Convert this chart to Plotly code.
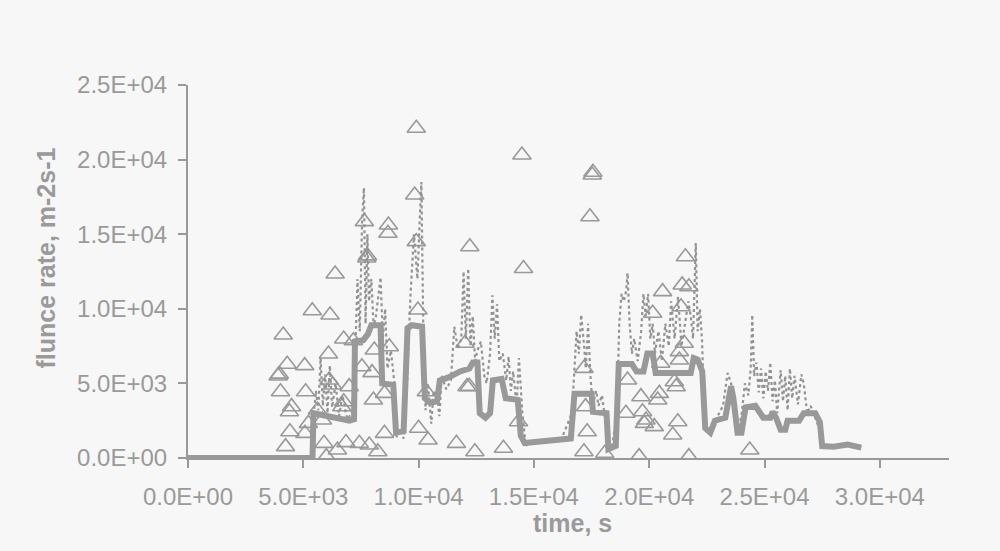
import plotly.graph_objects as go

# Smoothed fluence rate (thick solid trace)
smooth_t = [0, 5400, 5440, 5800, 6200, 6600, 7000, 7200, 7240, 7600, 7800, 7950, 8350,
            8420, 8900, 9020, 9350, 9520, 9700, 10150, 10270, 10500, 10800, 10920, 11300,
            11800, 12200, 12350, 12550, 12650, 12900, 13100, 13220, 13600, 13780, 14300,
            14430, 14600, 15200, 15800, 16600, 16760, 17500, 17560, 18150, 18230, 18550,
            18680, 19250, 19450, 19750, 19920, 20150, 20280, 21800, 21930, 22100, 22300,
            22430, 22650, 22850, 23300, 23550, 23650, 23830, 24000, 24180, 24600, 24950,
            25250, 25350, 25500, 25700, 25900, 26000, 26500, 26700, 27200, 27400, 27500,
            28000, 28600, 29200]
smooth_v = [0, 0, 3000, 2900, 2800, 2600, 2500, 2600, 7800, 7900, 8300, 8900, 8900,
            5000, 4900, 1700, 1800, 8700, 8900, 8800, 4000, 3700, 3800, 5200, 5400,
            5800, 6000, 6400, 6400, 3000, 2700, 3000, 5200, 5300, 4000, 3900,
            1500, 1000, 1100, 1200, 1300, 4300, 4300, 3100, 3000, 600, 800,
            6300, 6300, 5800, 5800, 7000, 7000, 5700, 5700, 6700, 6600, 5800,
            2000, 1700, 2500, 2700, 4800, 4000, 1700, 1700, 3400, 3500, 2700,
            2700, 3100, 2700, 1900, 1900, 2500, 2500, 3000, 3000, 2400, 800,
            750, 900, 700]

# Raw fluence rate (dotted trace)
raw_t = [5450, 5550, 5650, 5750, 5850, 5950, 6050, 6150, 6250, 6400, 6550, 6700, 6900,
         7100, 7250, 7350, 7450, 7550, 7630, 7700, 7780, 7850, 7950, 8050, 8150, 8250,
         8350, 8450, 8550, 8650, 8800, 8950, 9050, 9200, 9350, 9500, 9650, 9800, 9950,
         10050, 10120, 10200, 10300, 10400, 10550, 10650, 10800, 10900, 11000, 11200,
         11400, 11550, 11700, 11850, 11950, 12050, 12150, 12250, 12350, 12450, 12550,
         12700, 12850, 12950, 13100, 13200, 13300, 13400, 13500, 13650, 13800, 13900,
         14000, 14100, 14250, 14350, 14500, 14650, 14800, 15500, 16200, 16650, 16750,
         16850, 16950, 17050, 17150, 17250, 17350, 17450, 17550, 17700, 17800, 17950,
         18100, 18250, 18400, 18600, 18700, 18800, 18900, 19000, 19060, 19150, 19250,
         19350, 19500, 19650, 19750, 19850, 19950, 20050, 20150, 20250, 20400, 20550,
         20700, 20850, 20950, 21100, 21250, 21400, 21550, 21700, 21800, 21900, 22020,
         22100, 22200, 22290, 22350, 22450, 22600, 22800, 23000, 23200, 23400, 23550,
         23700, 23850, 24000, 24150, 24300, 24400, 24470, 24550, 24650, 24750, 24850,
         24950, 25050, 25150, 25250, 25350, 25450, 25550, 25700, 25800, 25900, 26000,
         26100, 26200, 26300, 26450, 26600, 26700, 26850, 27000, 27250, 27400, 27500]
raw_v = [2900, 4500, 3200, 6700, 3500, 5600, 3000, 6200, 3400, 5000, 2800, 4200, 2600,
         3000, 7000, 12000, 8500, 16000, 18100, 9000, 15000, 10500, 12000, 8800, 9500, 11000,
         12100, 8000, 10000, 6000, 7200, 5000, 1400, 1900, 1300, 5000, 11000, 15000, 12000,
         16000, 18500, 9000, 3200, 5000, 2300, 4500, 4200, 2800, 5500, 4600,
         5200, 8800, 7300, 8000, 12500, 8000, 12700, 7500, 9500, 6500, 7200,
         7800, 5500, 5000, 7000, 10900, 8000, 10300, 6500, 7000, 5200, 6800,
         4500, 5800, 3500, 6700, 3000, 800, 1100, 1200, 1300, 3000, 6000,
         8500, 7000, 9600, 8000, 6000, 9000, 5500, 3500, 4500, 3500, 4200,
         2500, 500, 900, 3000, 9000, 11000, 10500, 11200, 12400, 9000, 7000,
         8000, 6500, 8500, 11000, 9500, 11000, 8000, 9000, 7000, 8500, 6500,
         9000, 7500, 10500, 8000, 10800, 7500, 9000, 10500, 9500, 8000, 14400,
         8500, 10000, 7900, 5000, 2000, 1700, 2300, 3000, 3500, 5700, 5000,
         4000, 2000, 2800, 5000, 4200, 6000, 9600, 5500, 6400, 4400, 6000,
         4000, 5800, 4500, 6400, 3800, 5200, 3000, 5900, 3800, 5500, 3200,
         6000, 4000, 5500, 3600, 5600, 5000, 3000, 3500, 2500, 1800, 800]

# Discrete measurements (open triangles)
meas_t = [4130, 3910, 3960, 4300, 5060, 4010, 5100, 4490, 4400, 4420, 5070, 5220, 5610,
          4230, 5390, 6160, 6380, 6750, 7170, 6090, 6120, 6270, 6990, 7540, 7980, 8080,
          8730, 8040, 8520, 6750, 6670, 5830, 5900, 6000, 6480, 6850, 7430, 7860, 8230,
          8520, 7750, 7780, 7650, 8690, 8670, 9900, 9830, 9900, 9970, 12220, 12010, 12100,
          12200, 10340, 10000, 10410, 11640, 12440, 13680, 14480, 14550, 14330, 17530,
          17560, 17430, 17170, 17240, 17310, 17170, 18070, 19060, 18990, 19560, 19640,
          19710, 19790, 21570, 21430, 21720, 20580, 21380, 20150, 21520, 21310, 21310,
          20500, 21090, 21170, 20440, 20370, 19860, 20220, 21240, 21020, 21720, 24360]
meas_v = [8240, 5500, 5620, 6280, 6190, 4440, 4440, 3440, 3100, 1760, 1650, 2320, 3220,
          760, 9870, 9580, 12330, 7980, 7860, 6970, 5230, 4890, 4780, 6120, 5720, 7240,
          7460, 3890, 4330, 3770, 3440, 2550, 980, 90, 540, 1030, 980, 870, 420,
          1650, 13400, 13550, 15840, 15620, 15060, 22100, 17630, 14500, 9920, 14160, 7690, 4780,
          4800, 4440, 1990, 1210, 980, 420, 650, 20310, 12700, 2430, 18970,
          19150, 16170, 6010, 3440, 1760, 420, 310, 5230, 3000, 90, 4110,
          3100, 2320, 13490, 11600, 11480, 11150, 10140, 9700, 7690, 7130, 6570,
          6350, 5110, 4780, 4330, 3890, 2550, 2100, 2430, 1540, 90, 540]

x_ticks = [0, 5000, 10000, 15000, 20000, 25000, 30000]
x_tick_labels = ["0.0E+00", "5.0E+03", "1.0E+04", "1.5E+04", "2.0E+04", "2.5E+04", "3.0E+04"]
y_ticks = [0, 5000, 10000, 15000, 20000, 25000]
y_tick_labels = ["0.0E+00", "5.0E+03", "1.0E+04", "1.5E+04", "2.0E+04", "2.5E+04"]

GRAY = "#999999"
TEXT = "#9a9a9a"
BG = "#f7f7f7"
FONT = "Liberation Sans, Arial, sans-serif"

fig = go.Figure()
fig.add_trace(go.Scatter(
    x=meas_t, y=meas_v, mode="markers",
    marker=dict(symbol="triangle-up-open", size=16, color=GRAY, line=dict(width=1.6, color=GRAY)),
    showlegend=False, hoverinfo="skip"))
fig.add_trace(go.Scatter(
    x=raw_t, y=raw_v, mode="lines",
    line=dict(color="#939393", width=2.2, dash="3px,3px"),
    showlegend=False, hoverinfo="skip"))
fig.add_trace(go.Scatter(
    x=smooth_t, y=smooth_v, mode="lines",
    line=dict(color=GRAY, width=6),
    showlegend=False, hoverinfo="skip"))

axis_common = dict(
    showline=True, linecolor=GRAY, linewidth=2,
    ticks="outside", ticklen=8, tickwidth=2, tickcolor=GRAY,
    showgrid=False, zeroline=False,
    tickfont=dict(family=FONT, size=24, color=TEXT),
)
fig.update_xaxes(range=[0, 33000], tickvals=x_ticks, ticktext=x_tick_labels,
                 ticklabelstandoff=8, **axis_common)
fig.update_yaxes(range=[0, 25000], tickvals=y_ticks, ticktext=y_tick_labels,
                 ticklabelstandoff=6, **axis_common)

fig.add_annotation(text="<b>flunce rate, m-2s-1</b>", textangle=-90,
                   xref="paper", yref="paper", x=0, y=0.5, xanchor="center", yanchor="middle",
                   xshift=-143, yshift=13, showarrow=False,
                   font=dict(family=FONT, size=25, color=TEXT))
fig.add_annotation(text="<b>time, s</b>",
                   xref="paper", yref="paper", x=0.5, y=0, xanchor="center", yanchor="middle",
                   xshift=4, yshift=-65, showarrow=False,
                   font=dict(family=FONT, size=25, color=TEXT))

fig.update_layout(
    width=1000, height=551,
    margin=dict(l=188, r=51, t=85, b=93),
    paper_bgcolor=BG, plot_bgcolor=BG,
)
fig.write_html("out.html")
